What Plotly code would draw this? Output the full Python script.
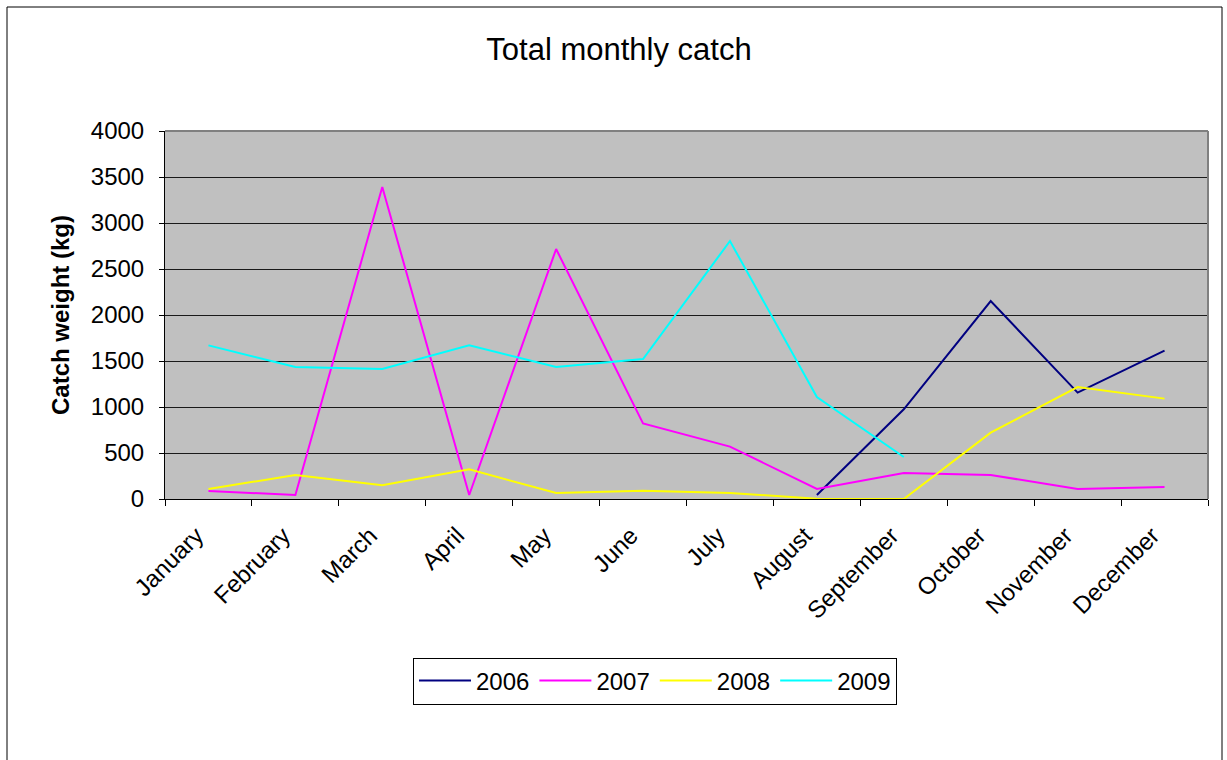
import plotly.graph_objects as go

months = ["January", "February", "March", "April", "May", "June", "July",
          "August", "September", "October", "November", "December"]
y2006 = [None, None, None, None, None, None, None, 43, 975, 2152, 1156, 1612]
y2007 = [87, 43, 3391, 43, 2717, 822, 569, 109, 283, 261, 109, 130]
y2008 = [109, 261, 149, 322, 65, 90, 65, 3, 0, 721, 1217, 1091]
y2009 = [1670, 1435, 1413, 1670, 1435, 1522, 2804, 1109, 457, None, None, None]
years = ["2006", "2007", "2008", "2009"]
colors = ["#000080", "#FF00FF", "#FFFF00", "#00FFFF"]
y_ticks = [0, 500, 1000, 1500, 2000, 2500, 3000, 3500, 4000]

FONT = "Liberation Sans, Arial, sans-serif"

fig = go.Figure()
for name, vals, col in zip(years, [y2006, y2007, y2008, y2009], colors):
    fig.add_trace(go.Scatter(x=months, y=vals, name=name, mode="lines",
                             line=dict(color=col, width=2), connectgaps=False))

L, R, T, B = 165, 1208, 131, 499
W, H = 1227, 760
pw, ph = R - L, B - T

def px_x(x):
    return (x - L) / pw

def px_y(y):
    return (B - y) / ph

fig.update_layout(
    width=W, height=H,
    margin=dict(l=L, r=W - R, t=T, b=H - B, pad=0),
    paper_bgcolor="white",
    plot_bgcolor="#C0C0C0",
    font=dict(family=FONT, color="black"),
    title=dict(text="Total monthly catch", x=619 / W, xref="container", xanchor="center",
               y=1 - 49 / H, yref="container", yanchor="middle",
               font=dict(size=31, family=FONT, color="black")),
    showlegend=True,
    legend=dict(orientation="h", x=px_x(655), y=px_y(681), xref="paper", yref="paper",
                xanchor="center", yanchor="middle",
                bordercolor="black", borderwidth=1, bgcolor="white",
                font=dict(size=24, family=FONT), itemwidth=52, tracegroupgap=0),
    xaxis=dict(type="category", categoryorder="array", categoryarray=months,
               range=[-0.5, 11.5], tickangle=-45, tickson="boundaries",
               ticks="outside", ticklen=6, tickcolor="black",
               showline=True, linecolor="black", linewidth=1,
               showgrid=False, zeroline=False, ticklabelstandoff=12,
               ticklabelshift=-12,
               tickfont=dict(size=24, family=FONT)),
    yaxis=dict(range=[0, 4000], tickvals=y_ticks, ticks="outside", ticklen=5,
               tickcolor="black", showline=True, linecolor="black", linewidth=1,
               showgrid=True, gridcolor="#1a1a1a", gridwidth=1, zeroline=False,
               ticklabelstandoff=10,
               tickfont=dict(size=24, family=FONT),
               title=dict(text="<b>Catch weight (kg)</b>", standoff=14,
                          font=dict(size=24, family=FONT))),
    shapes=[
        dict(type="line", xref="paper", yref="paper", x0=0, x1=1, y0=1, y1=1,
             line=dict(color="#808080", width=2), layer="above"),
        dict(type="line", xref="paper", yref="paper", x0=1, x1=1, y0=0, y1=1,
             line=dict(color="#808080", width=2), layer="above"),
        dict(type="rect", xref="paper", yref="paper",
             x0=px_x(7), x1=px_x(1222), y0=px_y(800), y1=px_y(7),
             line=dict(color="black", width=1), fillcolor="rgba(0,0,0,0)",
             layer="below"),
    ],
)

fig.write_html("out.html")
